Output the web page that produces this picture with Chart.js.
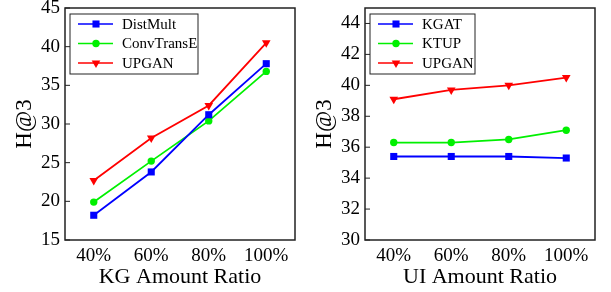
<!DOCTYPE html>
<html lang="en">
<head>
    <meta charset="UTF-8">
    <title>H@3 vs Amount Ratio</title>
    <script src="https://cdn.jsdelivr.net/npm/chart.js@4.4.0/dist/chart.umd.min.js"></script>
    <style>
        body { margin: 0; background: #fff; }
        .panel { position: absolute; top: 0; width: 300px; height: 292px; }
    </style>
</head>
<body>
    <div class="panel" style="left:0"><canvas id="kgChart" width="300" height="292"></canvas></div>
    <div class="panel" style="left:300px"><canvas id="uiChart" width="300" height="292"></canvas></div>
    <script>
        const ratios = ['40%', '60%', '80%', '100%'];

        // left panel: KG amount ratio
        const distMult = [18.2, 23.8, 31.2, 37.8];
        const convTransE = [19.9, 25.2, 30.4, 36.8];
        const upganKG = [22.7, 28.2, 32.4, 40.5];
        const kgTicks = [15, 20, 25, 30, 35, 40, 45];

        // right panel: UI amount ratio
        const kgat = [35.4, 35.4, 35.4, 35.3];
        const ktup = [36.3, 36.3, 36.5, 37.1];
        const upganUI = [39.1, 39.7, 40.0, 40.5];
        const uiTicks = [30, 32, 34, 36, 38, 40, 42, 44];

        const FONT = 'Liberation Serif';
        Chart.defaults.font.family = FONT;
        Chart.defaults.color = '#000';
        const BLUE = '#0000ff', GREEN = '#00f000', RED = '#ff0000';

        const series = (label, data, color, style, radius, rotation) => ({
            label, data,
            borderColor: color, backgroundColor: color,
            borderWidth: 1.8,
            pointStyle: style, pointRadius: radius, pointRotation: rotation || 0,
            pointBorderWidth: 0,
            tension: 0
        });

        // box around plot area, inward y ticks and a legend with line+marker
        const framePlugin = {
            id: 'frame',
            afterDraw(chart) {
                const ctx = chart.ctx, a = chart.chartArea, ys = chart.scales.y;
                ctx.save();
                ctx.strokeStyle = '#222';
                ctx.lineWidth = 1.5;
                ctx.strokeRect(a.left, a.top, a.right - a.left, a.bottom - a.top);
                ctx.lineWidth = 1;
                ys.ticks.forEach((t, i) => {
                    const y = ys.getPixelForTick(i);
                    ctx.beginPath();
                    ctx.moveTo(a.left, y);
                    ctx.lineTo(a.left + 5, y);
                    ctx.stroke();
                });

                const lg = chart.options.plugins.boxLegend;
                const x0 = a.left + 5, y0 = a.top + 6;
                ctx.lineWidth = 1;
                ctx.strokeStyle = '#222';
                ctx.strokeRect(x0, y0, lg.width, 60);
                ctx.font = '15px ' + FONT;
                ctx.textBaseline = 'middle';
                chart.data.datasets.forEach((ds, i) => {
                    const y = y0 + 10 + i * 19.5;
                    ctx.strokeStyle = ds.borderColor;
                    ctx.lineWidth = 1.5;
                    ctx.beginPath();
                    ctx.moveTo(x0 + 8, y);
                    ctx.lineTo(x0 + 43, y);
                    ctx.stroke();
                    ctx.fillStyle = ds.backgroundColor;
                    Chart.helpers.drawPoint(ctx, {
                        pointStyle: ds.pointStyle, radius: ds.pointRadius,
                        rotation: ds.pointRotation, borderWidth: 0
                    }, x0 + 26, y);
                    ctx.fillStyle = '#000';
                    ctx.fillText(ds.label, x0 + 52, y + 1);
                });
                ctx.restore();
            }
        };

        const makeChart = (id, datasets, yTicks, yMax, xTitle, legendWidth) => new Chart(document.getElementById(id), {
            type: 'line',
            data: { labels: ratios, datasets },
            options: {
                responsive: false,
                animation: false,
                layout: { padding: { top: 0, right: 3, left: 0, bottom: 0 } },
                plugins: {
                    legend: { display: false },
                    tooltip: { enabled: false },
                    boxLegend: { width: legendWidth }
                },
                scales: {
                    x: {
                        offset: true,
                        grid: { display: false, drawTicks: false },
                        border: { display: false },
                        ticks: { font: { size: 19 }, padding: 5, maxRotation: 0 },
                        title: { display: true, text: xTitle, font: { size: 22 }, padding: { top: 0, bottom: 2 } },
                        afterFit: s => { s.height = 52; s.paddingLeft = 0; s.paddingRight = 0; }
                    },
                    y: {
                        min: yTicks[0], max: yMax,
                        grid: { display: false, drawTicks: false },
                        border: { display: false },
                        ticks: { font: { size: 19 }, padding: 5 },
                        afterBuildTicks: s => { s.ticks = yTicks.map(v => ({ value: v })); },
                        title: { display: true, text: 'H@3', font: { size: 23 }, padding: { top: 11, bottom: 0 } },
                        afterFit: s => { s.width = 65; s.paddingTop = 8; s.paddingBottom = 0; }
                    }
                }
            },
            plugins: [framePlugin]
        });

        makeChart('kgChart', [
            series('DistMult', distMult, BLUE, 'rect', 5),
            series('ConvTransE', convTransE, GREEN, 'circle', 3.7),
            series('UPGAN', upganKG, RED, 'triangle', 5, 180)
        ], kgTicks, 45, 'KG Amount Ratio', 128);

        makeChart('uiChart', [
            series('KGAT', kgat, BLUE, 'rect', 5),
            series('KTUP', ktup, GREEN, 'circle', 3.7),
            series('UPGAN', upganUI, RED, 'triangle', 5, 180)
        ], uiTicks, 45, 'UI Amount Ratio', 105);
    </script>
</body>
</html>
